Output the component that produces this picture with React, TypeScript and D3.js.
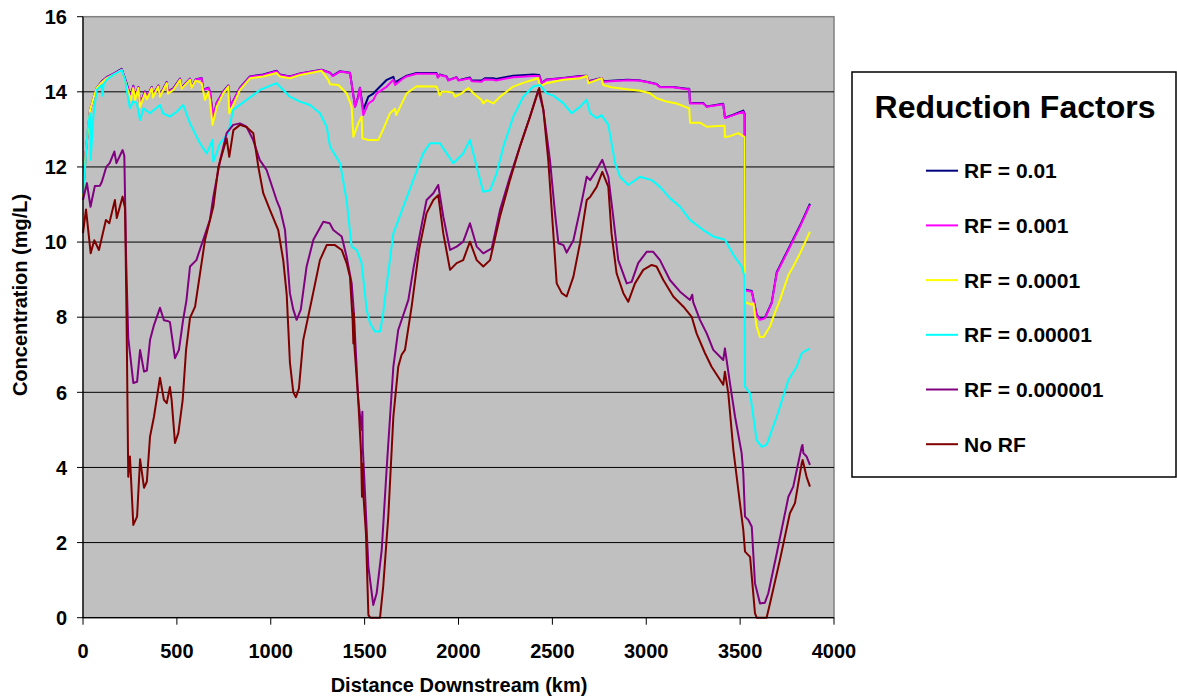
import React from "react";
import * as d3 from "d3";

type Pt = [number, number];

// Distance (km), concentration (mg/L)
const rf001: Pt[] = [
  [0, 11.2], [15, 12.4], [37, 13.5], [60, 13.9], [73, 14.1], [100, 14.28], [126, 14.39], [161, 14.48], [206, 14.61],
  [233, 14.21], [254, 13.86], [268, 14.16], [277, 13.86], [295, 14.13], [304, 13.66], [330, 14.01], [340, 13.86],
  [366, 14.13], [372, 13.91], [401, 14.17], [410, 13.91], [446, 14.26], [452, 14.01], [481, 14.09], [517, 14.35],
  [525, 14.11], [570, 14.35], [578, 14.13], [600, 14.33], [632, 14.37], [640, 14.06], [668, 14.11], [676, 14.01],
  [694, 13.31], [712, 13.71], [747, 14.01], [774, 14.17], [783, 13.61], [800, 13.76], [836, 14.11], [889, 14.41],
  [960, 14.46], [1031, 14.56], [1049, 14.46], [1102, 14.41], [1156, 14.49], [1271, 14.59], [1316, 14.51], [1330, 14.43],
  [1369, 14.55], [1422, 14.51], [1449, 13.61], [1466, 13.88], [1475, 14.11], [1493, 13.52], [1520, 13.87],
  [1546, 13.95], [1564, 14.05], [1618, 14.32], [1653, 14.4], [1662, 14.25], [1706, 14.38], [1724, 14.43],
  [1777, 14.5], [1883, 14.5], [1890, 14.39], [1900, 14.46], [1937, 14.41], [1945, 14.31], [1990, 14.39],
  [2000, 14.31], [2061, 14.38], [2070, 14.3], [2123, 14.3], [2140, 14.36], [2185, 14.36], [2200, 14.34],
  [2292, 14.43], [2398, 14.46], [2430, 14.45], [2443, 14.24], [2470, 14.33], [2558, 14.37], [2647, 14.42],
  [2683, 14.43], [2692, 14.28], [2762, 14.37], [2771, 14.28], [2834, 14.3], [2900, 14.32], [2960, 14.31],
  [3002, 14.27], [3055, 14.21], [3073, 14.13], [3144, 14.13], [3215, 14.08], [3229, 14.08], [3233, 13.7],
  [3304, 13.7], [3322, 13.61], [3410, 13.68], [3419, 13.31], [3464, 13.39], [3517, 13.5], [3524, 13.42],
  [3526, 8.74], [3562, 8.7], [3588, 8.07], [3606, 7.95], [3632, 7.99], [3668, 8.39], [3695, 9.2], [3757, 9.82],
  [3819, 10.44], [3872, 11.02],
];

const rf0001: Pt[] = [
  [0, 11.2], [15, 12.4], [37, 13.5], [60, 13.9], [73, 14.1], [100, 14.27], [126, 14.38], [161, 14.47], [206, 14.6],
  [233, 14.2], [254, 13.85], [268, 14.15], [277, 13.85], [295, 14.12], [304, 13.65], [330, 14.0], [340, 13.85],
  [366, 14.12], [372, 13.9], [401, 14.16], [410, 13.9], [446, 14.25], [452, 14.0], [481, 14.08], [517, 14.34],
  [525, 14.1], [570, 14.34], [578, 14.12], [600, 14.32], [632, 14.36], [640, 14.05], [668, 14.1], [676, 14.0],
  [694, 13.3], [712, 13.7], [747, 14.0], [774, 14.16], [783, 13.6], [800, 13.75], [836, 14.1], [889, 14.4],
  [960, 14.45], [1031, 14.55], [1049, 14.45], [1102, 14.4], [1156, 14.48], [1271, 14.58], [1316, 14.5], [1330, 14.42],
  [1369, 14.54], [1422, 14.5], [1449, 13.6], [1466, 13.87], [1475, 14.1], [1493, 13.38], [1520, 13.69],
  [1546, 13.78], [1564, 13.96], [1618, 14.14], [1653, 14.32], [1662, 14.18], [1706, 14.36], [1724, 14.41],
  [1777, 14.48], [1883, 14.48], [1890, 14.38], [1900, 14.45], [1937, 14.4], [1945, 14.3], [1990, 14.38],
  [2000, 14.3], [2061, 14.36], [2070, 14.28], [2123, 14.27], [2140, 14.33], [2185, 14.32], [2200, 14.3],
  [2292, 14.39], [2398, 14.42], [2430, 14.42], [2443, 14.23], [2470, 14.32], [2558, 14.36], [2647, 14.41],
  [2683, 14.42], [2692, 14.27], [2762, 14.36], [2771, 14.27], [2834, 14.29], [2900, 14.31], [2960, 14.3],
  [3002, 14.26], [3055, 14.2], [3073, 14.12], [3144, 14.12], [3215, 14.07], [3229, 14.07], [3233, 13.69],
  [3304, 13.69], [3322, 13.6], [3410, 13.67], [3419, 13.3], [3464, 13.38], [3517, 13.47], [3524, 13.38],
  [3526, 8.72], [3562, 8.68], [3588, 8.05], [3606, 7.93], [3632, 7.97], [3668, 8.37], [3695, 9.17], [3757, 9.79],
  [3819, 10.41], [3872, 10.99],
];

const rf00001: Pt[] = [
  [0, 11.2], [15, 12.4], [37, 13.5], [60, 13.9], [73, 14.1], [100, 14.25], [126, 14.36], [161, 14.45], [206, 14.58],
  [233, 14.14], [254, 13.78], [268, 14.1], [277, 13.78], [295, 14.1], [304, 13.6], [330, 13.96], [340, 13.8],
  [366, 14.1], [372, 13.85], [401, 14.14], [410, 13.87], [446, 14.23], [452, 13.95], [481, 14.05], [517, 14.32],
  [525, 14.08], [570, 14.32], [578, 14.1], [600, 14.3], [632, 14.23], [650, 13.78], [668, 14.0], [676, 13.78],
  [690, 13.12], [712, 13.6], [747, 13.96], [774, 14.14], [779, 13.43], [800, 13.65], [836, 14.05], [889, 14.36],
  [960, 14.41], [1031, 14.5], [1049, 14.41], [1102, 14.36], [1156, 14.45], [1271, 14.56], [1307, 14.32],
  [1316, 14.2], [1360, 14.18], [1404, 13.96], [1431, 13.6], [1440, 12.8], [1466, 13.16], [1484, 13.34],
  [1488, 12.76], [1520, 12.72], [1573, 12.72], [1599, 13.0], [1635, 13.43], [1662, 13.55], [1668, 13.38],
  [1724, 13.96], [1777, 14.15], [1883, 14.14], [1892, 14.02], [1900, 13.9], [1910, 14.0], [1937, 14.0],
  [1970, 13.98], [1981, 13.87], [2016, 13.96], [2052, 14.1], [2088, 13.92], [2123, 13.78], [2132, 13.69],
  [2150, 13.78], [2185, 13.69], [2221, 13.87], [2292, 14.14], [2363, 14.27], [2425, 14.36], [2434, 14.15],
  [2470, 14.23], [2558, 14.32], [2647, 14.36], [2683, 14.42], [2692, 14.23], [2762, 14.36], [2771, 14.18],
  [2815, 14.12], [2896, 14.07], [2967, 14.03], [3020, 13.96], [3055, 13.83], [3109, 13.74], [3162, 13.69],
  [3229, 13.56], [3233, 13.18], [3286, 13.18], [3322, 13.07], [3384, 13.09], [3417, 13.1], [3419, 12.8],
  [3446, 12.82], [3490, 12.9], [3523, 12.8], [3526, 8.4], [3562, 8.33], [3571, 8.37], [3588, 7.75], [3606, 7.47],
  [3624, 7.47], [3659, 7.75], [3677, 8.01], [3712, 8.46], [3757, 9.12], [3783, 9.35], [3819, 9.7], [3872, 10.28],
];

const rf000001: Pt[] = [
  [0, 11.3], [11, 12.0], [25, 13.0], [37, 13.43], [41, 12.19], [55, 13.34], [73, 14.05], [100, 14.18], [104, 13.9],
  [110, 14.2], [126, 14.32], [161, 14.45], [206, 14.58], [224, 14.31], [250, 13.56], [268, 13.75], [286, 13.7],
  [304, 13.25], [322, 13.56], [357, 13.43], [410, 13.65], [426, 13.43], [463, 13.34], [499, 13.47], [534, 13.65],
  [570, 13.16], [623, 12.63], [659, 12.36], [690, 12.72], [694, 12.14], [730, 12.63], [774, 12.9], [800, 13.52],
  [872, 13.79], [943, 14.05], [1031, 14.23], [1067, 14.05], [1102, 13.87], [1156, 13.74], [1209, 13.65],
  [1262, 13.43], [1298, 13.07], [1316, 12.54], [1369, 12.1], [1404, 11.12], [1431, 9.88], [1458, 9.79],
  [1484, 9.44], [1511, 8.19], [1529, 7.84], [1555, 7.62], [1582, 7.62], [1599, 8.1], [1607, 8.46], [1653, 10.23],
  [1706, 10.94], [1759, 11.65], [1812, 12.36], [1848, 12.63], [1901, 12.63], [1937, 12.36], [1972, 12.1],
  [2025, 12.36], [2061, 12.72], [2097, 12.0], [2132, 11.34], [2168, 11.38], [2203, 11.83], [2239, 12.54],
  [2292, 13.34], [2345, 13.87], [2398, 14.14], [2434, 14.18], [2470, 13.96], [2505, 13.9], [2558, 13.7],
  [2603, 13.43], [2647, 13.6], [2683, 13.79], [2701, 13.43], [2736, 13.3], [2762, 13.38], [2798, 13.12],
  [2834, 12.1], [2860, 11.74], [2904, 11.52], [2967, 11.74], [3029, 11.65], [3073, 11.47], [3126, 11.17],
  [3180, 10.94], [3233, 10.59], [3304, 10.32], [3357, 10.15], [3419, 10.06], [3464, 9.66], [3508, 9.35],
  [3524, 9.08], [3526, 6.15], [3553, 5.97], [3588, 4.73], [3615, 4.55], [3641, 4.6], [3695, 5.35], [3757, 6.33],
  [3801, 6.68], [3828, 7.04], [3846, 7.1], [3872, 7.17],
];

const rf0000001: Pt[] = [
  [0, 11.12], [21, 11.57], [40, 10.94], [63, 11.49], [90, 11.5], [100, 11.6], [124, 12.0], [142, 12.1], [167, 12.41],
  [178, 12.1], [211, 12.45], [220, 12.3], [230, 9.5], [241, 7.45], [268, 6.25], [288, 6.28], [304, 7.13], [325, 6.55],
  [340, 6.58], [357, 7.39], [378, 7.79], [410, 8.25], [431, 7.92], [450, 7.9], [463, 7.87], [490, 6.91], [511, 7.13],
  [533, 7.92], [551, 8.45], [570, 9.35], [604, 9.52], [676, 10.59], [694, 11.2], [731, 12.19], [765, 12.9],
  [800, 13.12], [836, 13.16], [871, 13.07], [906, 12.72], [941, 12.19], [978, 11.92], [1031, 11.12], [1049, 10.9],
  [1076, 10.32], [1102, 8.64], [1120, 8.2], [1138, 7.93], [1160, 8.2], [1191, 9.35], [1227, 10.06], [1280, 10.54],
  [1314, 10.5], [1333, 10.32], [1378, 10.15], [1404, 9.61], [1431, 8.9], [1443, 8.1], [1466, 5.8], [1484, 5.0],
  [1488, 5.48], [1490, 4.55], [1502, 3.31], [1520, 1.36], [1546, 0.34], [1564, 0.65], [1591, 1.8], [1618, 4.02],
  [1653, 6.68], [1679, 7.66], [1706, 8.06], [1733, 8.46], [1760, 9.3], [1795, 10.23], [1830, 11.12], [1866, 11.3],
  [1892, 11.52], [1919, 10.68], [1955, 9.79], [1990, 9.88], [2025, 10.01], [2061, 10.5], [2097, 9.88], [2132, 9.7],
  [2177, 9.83], [2221, 10.85], [2274, 11.74], [2327, 12.54], [2381, 13.34], [2425, 14.05], [2452, 13.52],
  [2487, 12.19], [2514, 10.77], [2532, 9.97], [2559, 9.92], [2576, 9.72], [2612, 10.05], [2647, 10.85],
  [2683, 11.74], [2701, 11.65], [2736, 11.92], [2766, 12.19], [2798, 11.74], [2824, 10.68], [2851, 9.52],
  [2896, 8.9], [2922, 8.94], [2957, 9.44], [3002, 9.74], [3037, 9.74], [3073, 9.52], [3126, 8.99], [3180, 8.68],
  [3233, 8.46], [3245, 8.6], [3250, 8.4], [3286, 7.93], [3322, 7.57], [3357, 7.13], [3410, 6.86], [3419, 7.17],
  [3446, 6.24], [3473, 5.35], [3508, 4.38], [3517, 3.84], [3526, 2.69], [3544, 2.6], [3562, 2.42], [3579, 0.92],
  [3606, 0.38], [3632, 0.4], [3650, 0.65], [3695, 1.71], [3757, 3.22], [3783, 3.49], [3828, 4.55], [3832, 4.6],
  [3837, 4.38], [3854, 4.29], [3872, 4.07],
];

const noRF: Pt[] = [
  [0, 10.24], [16, 10.87], [41, 9.7], [60, 10.05], [85, 9.79], [122, 10.59], [140, 10.5], [170, 11.12], [180, 10.64],
  [211, 11.21], [224, 10.9], [232, 8.0], [241, 3.75], [250, 4.29], [268, 2.47], [288, 2.69], [304, 4.22], [325, 3.46],
  [340, 3.62], [357, 4.82], [378, 5.35], [410, 6.39], [431, 5.8], [446, 5.71], [463, 6.14], [472, 5.8], [490, 4.65],
  [508, 4.92], [531, 5.8], [549, 7.13], [570, 7.98], [597, 8.28], [650, 10.06], [694, 10.94], [721, 12.0],
  [765, 12.76], [779, 12.27], [801, 12.98], [836, 13.12], [872, 13.06], [907, 12.9], [934, 12.0], [960, 11.3],
  [996, 10.85], [1040, 10.32], [1067, 9.5], [1085, 8.6], [1102, 6.8], [1120, 6.0], [1134, 5.87], [1150, 6.1],
  [1173, 7.39], [1218, 8.46], [1262, 9.52], [1298, 9.92], [1342, 9.92], [1378, 9.79], [1404, 9.44], [1422, 9.08],
  [1436, 7.93], [1440, 7.3], [1443, 8.1], [1446, 7.2], [1466, 5.8], [1481, 4.38], [1486, 3.22], [1489, 4.1],
  [1493, 3.3], [1507, 2.25], [1520, 0.07], [1530, 0], [1582, 0], [1599, 0.83], [1626, 2.69], [1653, 5.35],
  [1679, 6.68], [1697, 7.0], [1715, 7.13], [1751, 8.3], [1790, 9.8], [1830, 10.77], [1866, 11.12], [1892, 11.25],
  [1919, 10.23], [1955, 9.26], [1990, 9.44], [2025, 9.52], [2061, 10.01], [2097, 9.52], [2132, 9.35], [2168, 9.52],
  [2221, 10.68], [2274, 11.65], [2327, 12.54], [2381, 13.34], [2430, 14.1], [2452, 13.52], [2478, 12.19],
  [2505, 10.23], [2523, 8.9], [2550, 8.64], [2576, 8.55], [2612, 9.08], [2647, 9.97], [2683, 11.12], [2701, 11.2],
  [2736, 11.47], [2766, 11.87], [2798, 11.47], [2815, 10.23], [2842, 9.17], [2878, 8.64], [2904, 8.41], [2940, 8.9],
  [2984, 9.26], [3029, 9.39], [3055, 9.35], [3091, 8.99], [3144, 8.55], [3198, 8.28], [3242, 8.01], [3268, 7.57],
  [3313, 7.04], [3348, 6.68], [3410, 6.2], [3419, 6.55], [3437, 5.97], [3464, 4.47], [3499, 3.05], [3517, 2.33],
  [3526, 1.76], [3553, 1.62], [3579, 0.12], [3588, 0], [3641, 0], [3659, 0.38], [3712, 1.54], [3765, 2.78],
  [3792, 3.05], [3828, 4.11], [3833, 4.2], [3854, 3.75], [3872, 3.49],
];

const seriesNames = ["RF = 0.01", "RF = 0.001", "RF = 0.0001", "RF = 0.00001", "RF = 0.000001", "No RF"];
const seriesColors = ["#000080", "#FF00FF", "#FFFF00", "#00FFFF", "#800080", "#800000"];
const seriesData = [rf001, rf0001, rf00001, rf000001, rf0000001, noRF];

const xTicks = [0, 500, 1000, 1500, 2000, 2500, 3000, 3500, 4000];
const yTicks = [0, 2, 4, 6, 8, 10, 12, 14, 16];

const FONT = "'Liberation Sans', Arial, sans-serif";

export default function App() {
  const x = d3.scaleLinear().domain([0, 4000]).range([83, 834]);
  const y = d3.scaleLinear().domain([0, 16]).range([617.7, 16.7]);
  const line = d3
    .line<Pt>()
    .x((d) => x(d[0]))
    .y((d) => y(d[1]));

  const legendX = 852;
  const legendY = 72;
  const rowY0 = 170.7;
  const rowStep = 54.7;

  return (
    <svg
      width={1177}
      height={700}
      style={{ position: "absolute", left: 0, top: 0, background: "#fff" }}
      fontFamily={FONT}
    >
      <rect x={0} y={0} width={1177} height={700} fill="#fff" />
      {/* plot area */}
      <rect x={x(0)} y={y(16)} width={x(4000) - x(0)} height={y(0) - y(16)} fill="#C0C0C0" stroke="#808080" strokeWidth={1.5} />
      {yTicks
        .filter((t) => t > 0 && t < 16)
        .map((t) => (
          <line key={"g" + t} x1={x(0)} x2={x(4000)} y1={y(t)} y2={y(t)} stroke="#000" strokeWidth={1} />
        ))}
      {/* series */}
      {seriesData.map((d, i) => (
        <path key={"s" + i} d={line(d) || ""} fill="none" stroke={seriesColors[i]} strokeWidth={2} strokeLinejoin="round" />
      ))}
      {/* axes */}
      <line x1={x(0)} x2={x(0)} y1={y(16)} y2={y(0)} stroke="#000" strokeWidth={1.2} />
      <line x1={x(0)} x2={x(4000)} y1={y(0)} y2={y(0)} stroke="#000" strokeWidth={1.2} />
      {yTicks.map((t) => (
        <g key={"yt" + t}>
          <line x1={x(0) - 6} x2={x(0)} y1={y(t)} y2={y(t)} stroke="#000" strokeWidth={1} />
          <text x={67} y={y(t)} dy="0.36em" textAnchor="end" fontSize={20} fontWeight="bold" fill="#000">
            {t}
          </text>
        </g>
      ))}
      {xTicks.map((t) => (
        <g key={"xt" + t}>
          <line x1={x(t)} x2={x(t)} y1={y(0)} y2={y(0) + 7} stroke="#000" strokeWidth={1} />
          <text x={x(t)} y={658} textAnchor="middle" fontSize={20} fontWeight="bold" fill="#000">
            {t}
          </text>
        </g>
      ))}
      <text x={459} y={692} textAnchor="middle" fontSize={20} fontWeight="bold" fill="#000">
        Distance Downstream (km)
      </text>
      <text
        transform={`translate(27,${295}) rotate(-90)`}
        textAnchor="middle"
        fontSize={20}
        fontWeight="bold"
        fill="#000"
      >
        Concentration (mg/L)
      </text>
      {/* legend */}
      <rect x={legendX} y={legendY} width={1177 - legendX - 1} height={477 - legendY} fill="#fff" stroke="#000" strokeWidth={1.5} />
      <text x={1015} y={118} textAnchor="middle" fontSize={32} fontWeight="bold" fill="#000">
        Reduction Factors
      </text>
      {seriesNames.map((n, i) => (
        <g key={"lg" + i}>
          <line x1={926} x2={958} y1={rowY0 + i * rowStep} y2={rowY0 + i * rowStep} stroke={seriesColors[i]} strokeWidth={2} />
          <text x={964} y={rowY0 + i * rowStep} dy="0.36em" fontSize={21} fontWeight="bold" fill="#000">
            {n}
          </text>
        </g>
      ))}
    </svg>
  );
}
